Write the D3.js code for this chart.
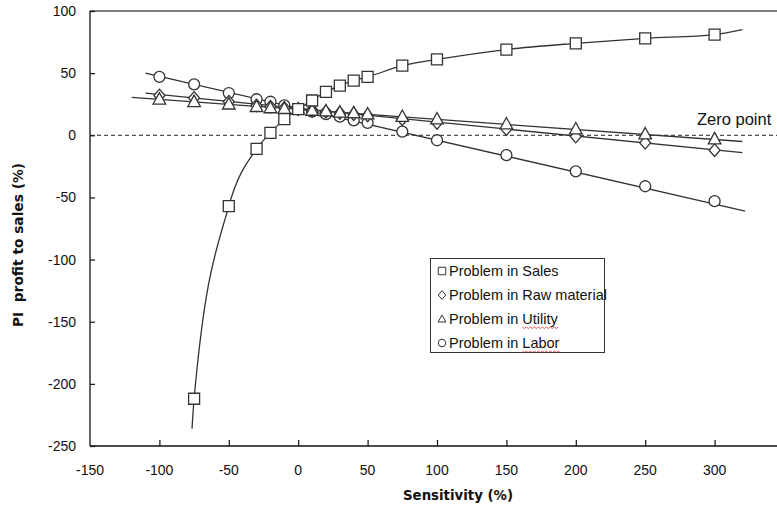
<!DOCTYPE html>
<html>
<head>
<meta charset="utf-8">
<script src="https://cdn.jsdelivr.net/npm/d3@7"></script>
<style>
  html, body { margin: 0; padding: 0; background: #fff; }
  svg { display: block; font-family: "Liberation Sans", Arial, sans-serif; }
</style>
</head>
<body>
<svg id="chart" width="777" height="511"></svg>
<script>
// Sensitivity of PI profit-to-sales ratio (%) to changes in each cost / revenue driver
const xTicks = [-150, -100, -50, 0, 50, 100, 150, 200, 250, 300];
const yTicks = [-250, -200, -150, -100, -50, 0, 50, 100];

const salesX = [-75, -50, -30, -20, -10, 0, 10, 20, 30, 40, 50, 75, 100, 150, 200, 250, 300];
const salesY = [-212, -57, -11, 2, 13, 21, 28, 35, 40, 44, 47, 56, 61, 69, 74, 78, 81];

const rawX = [-100, -75, -50, -30, -20, -10, 0, 10, 20, 30, 40, 50, 75, 100, 150, 200, 250, 300];
const rawY = [32, 30, 27, 24, 23, 22, 21, 20, 19, 18, 17, 16, 13, 10, 5, -1, -6, -12];

const utilX = [-100, -75, -50, -30, -20, -10, 0, 10, 20, 30, 40, 50, 75, 100, 150, 200, 250, 300];
const utilY = [29, 27, 25, 23, 22, 21.5, 21, 20, 19.5, 18.5, 18, 17, 15, 13, 9, 5, 1, -3];

const laborX = [-100, -75, -50, -30, -20, -10, 0, 10, 20, 30, 40, 50, 75, 100, 150, 200, 250, 300];
const laborY = [47, 41, 34, 29, 27, 24, 21, 19, 17, 15, 12, 10, 3, -4, -16, -29, -41, -53];

// Fitted trend lines (end points of each fit as drawn)
const salesTrendStart = [-76.5, -236];
const salesTrendEnd = [320, 85];
const rawTrend = [[-110, 34], [320, -14]];
const utilTrend = [[-120, 30.5], [320, -5]];
const laborTrend = [[-110, 50], [322, -61]];

const legendLabels = ["Problem in Sales", "Problem in Raw material", "Problem in Utility", "Problem in Labor"];
const legendShapes = ["square", "diamond", "triangle", "circle"];

const svg = d3.select("#chart");
const x = d3.scaleLinear().domain([-150, 350]).range([90, 784]);
const y = d3.scaleLinear().domain([-250, 100]).range([446, 11]);
const ink = "#333";
const titleFont = "'DejaVu Sans', Verdana, sans-serif";

// plot frame (extends past the right edge of the view)
svg.append("line").attr("x1", 90).attr("x2", 777).attr("y1", y(100)).attr("y2", y(100))
  .attr("stroke", "#555").attr("stroke-width", 1.5);

// axes with inward ticks
const xAxis = svg.append("g").attr("transform", `translate(0,${y(-250)})`)
  .call(d3.axisTop(x).tickValues(xTicks.slice(1)).tickSize(6).tickFormat(""));
xAxis.select(".domain").remove();
svg.append("line").attr("x1", 90).attr("x2", 777).attr("y1", y(-250)).attr("y2", y(-250))
  .attr("stroke", "#111").attr("stroke-width", 1.3);
xAxis.selectAll(".tick line").attr("stroke", "#111").attr("stroke-width", 1.2);
svg.append("g").selectAll("text").data(xTicks).join("text")
  .attr("x", d => x(d)).attr("y", 475).attr("text-anchor", "middle")
  .attr("font-size", 14).attr("fill", "#111").text(d => d);

const yAxis = svg.append("g").attr("transform", `translate(${x(-150)},0)`)
  .call(d3.axisRight(y).tickValues(yTicks).tickSize(5).tickFormat(""));
yAxis.select(".domain").remove();
svg.append("line").attr("x1", 90).attr("x2", 90).attr("y1", y(100)).attr("y2", y(-250))
  .attr("stroke", "#111").attr("stroke-width", 1.3);
yAxis.selectAll(".tick line").attr("stroke", "#111").attr("stroke-width", 1.2);
svg.append("g").selectAll("text").data(yTicks).join("text")
  .attr("x", 76).attr("y", d => y(d) + 5).attr("text-anchor", "end")
  .attr("font-size", 14).attr("fill", "#111").text(d => d);

// axis titles
svg.append("text").attr("x", 403).attr("y", 500)
  .attr("font-family", titleFont).attr("font-size", 13.5).attr("font-weight", "bold").attr("fill", "#111")
  .attr("textLength", 110).attr("lengthAdjust", "spacingAndGlyphs").text("Sensitivity (%)");
svg.append("text").attr("transform", "translate(23,327) rotate(-90)")
  .attr("font-family", titleFont).attr("font-size", 13.5).attr("font-weight", "bold").attr("fill", "#111")
  .attr("xml:space", "preserve").attr("textLength", 164).attr("lengthAdjust", "spacingAndGlyphs")
  .text("PI  profit to sales (%)");

// zero reference line
svg.append("line").attr("x1", 90).attr("x2", 777).attr("y1", y(0)).attr("y2", y(0))
  .attr("stroke", "#222").attr("stroke-width", 1).attr("stroke-dasharray", "4,3");
svg.append("text").attr("x", 697).attr("y", 125).attr("font-size", 16.5).attr("fill", "#111").text("Zero point");

// trend lines
const line = d3.line().x(d => x(d[0])).y(d => y(d[1]));
const salesPts = [salesTrendStart].concat(salesX.map((v, i) => [v, salesY[i]]), [salesTrendEnd]);
svg.append("path").attr("d", line.curve(d3.curveMonotoneX)(salesPts))
  .attr("fill", "none").attr("stroke", ink).attr("stroke-width", 1.3);
line.curve(d3.curveLinear);
[rawTrend, utilTrend, laborTrend].forEach(t => {
  svg.append("path").attr("d", line(t)).attr("fill", "none").attr("stroke", ink).attr("stroke-width", 1.3);
});

// marker shapes
function shapePath(kind, s) {
  const h = s / 2;
  if (kind === "square") return `M${-h},${-h}H${h}V${h}H${-h}Z`;
  if (kind === "diamond") return `M0,${-h * 1.15}L${h * 1.0},0L0,${h * 1.15}L${-h * 1.0},0Z`;
  if (kind === "triangle") return `M0,${-h * 1.1}L${h * 1.05},${h * 0.8}L${-h * 1.05},${h * 0.8}Z`;
  return `M${h},0A${h},${h} 0 1,1 ${-h},0A${h},${h} 0 1,1 ${h},0Z`;
}
function drawMarkers(xs, ys, kind, size) {
  svg.append("g").selectAll("path").data(xs.map((v, i) => [v, ys[i]])).join("path")
    .attr("transform", d => `translate(${x(d[0])},${y(d[1])})`)
    .attr("d", shapePath(kind, size))
    .attr("fill", "#fff").attr("stroke", ink).attr("stroke-width", 1.3);
}
drawMarkers(laborX, laborY, "circle", 11);
drawMarkers(rawX, rawY, "diamond", 11);
drawMarkers(utilX, utilY, "triangle", 12);
drawMarkers(salesX, salesY, "square", 11);

// legend
const lg = svg.append("g");
lg.append("rect").attr("x", 430.5).attr("y", 258.5).attr("width", 174).attr("height", 94)
  .attr("fill", "#fff").attr("stroke", ink).attr("stroke-width", 1);
legendLabels.forEach((lab, i) => {
  const cy = 271 + i * 24;
  lg.append("path").attr("transform", `translate(442,${cy})`).attr("d", shapePath(legendShapes[i], 7.5))
    .attr("fill", "#fff").attr("stroke", ink).attr("stroke-width", 1);
  const t = lg.append("text").attr("x", 449).attr("y", cy + 5).attr("font-size", 14.5).attr("fill", "#111").text(lab);
  if (i >= 2) {
    // proofing squiggle under the last word
    const word = i === 2 ? "Utility" : "Labor";
    const full = t.node().getComputedTextLength();
    const tmp = lg.append("text").attr("font-size", 14.5).text(word);
    const w = tmp.node().getComputedTextLength();
    tmp.remove();
    const x0 = 449 + full - w, x1 = 449 + full;
    let d = `M${x0},${cy + 8}`;
    for (let px = x0, k = 0; px < x1; px += 2, k++) d += `L${px + 2},${cy + 8 + (k % 2 ? 0 : 1.5)}`;
    lg.append("path").attr("d", d).attr("fill", "none").attr("stroke", "#d33").attr("stroke-width", 0.8);
  }
});
</script>
</body>
</html>
